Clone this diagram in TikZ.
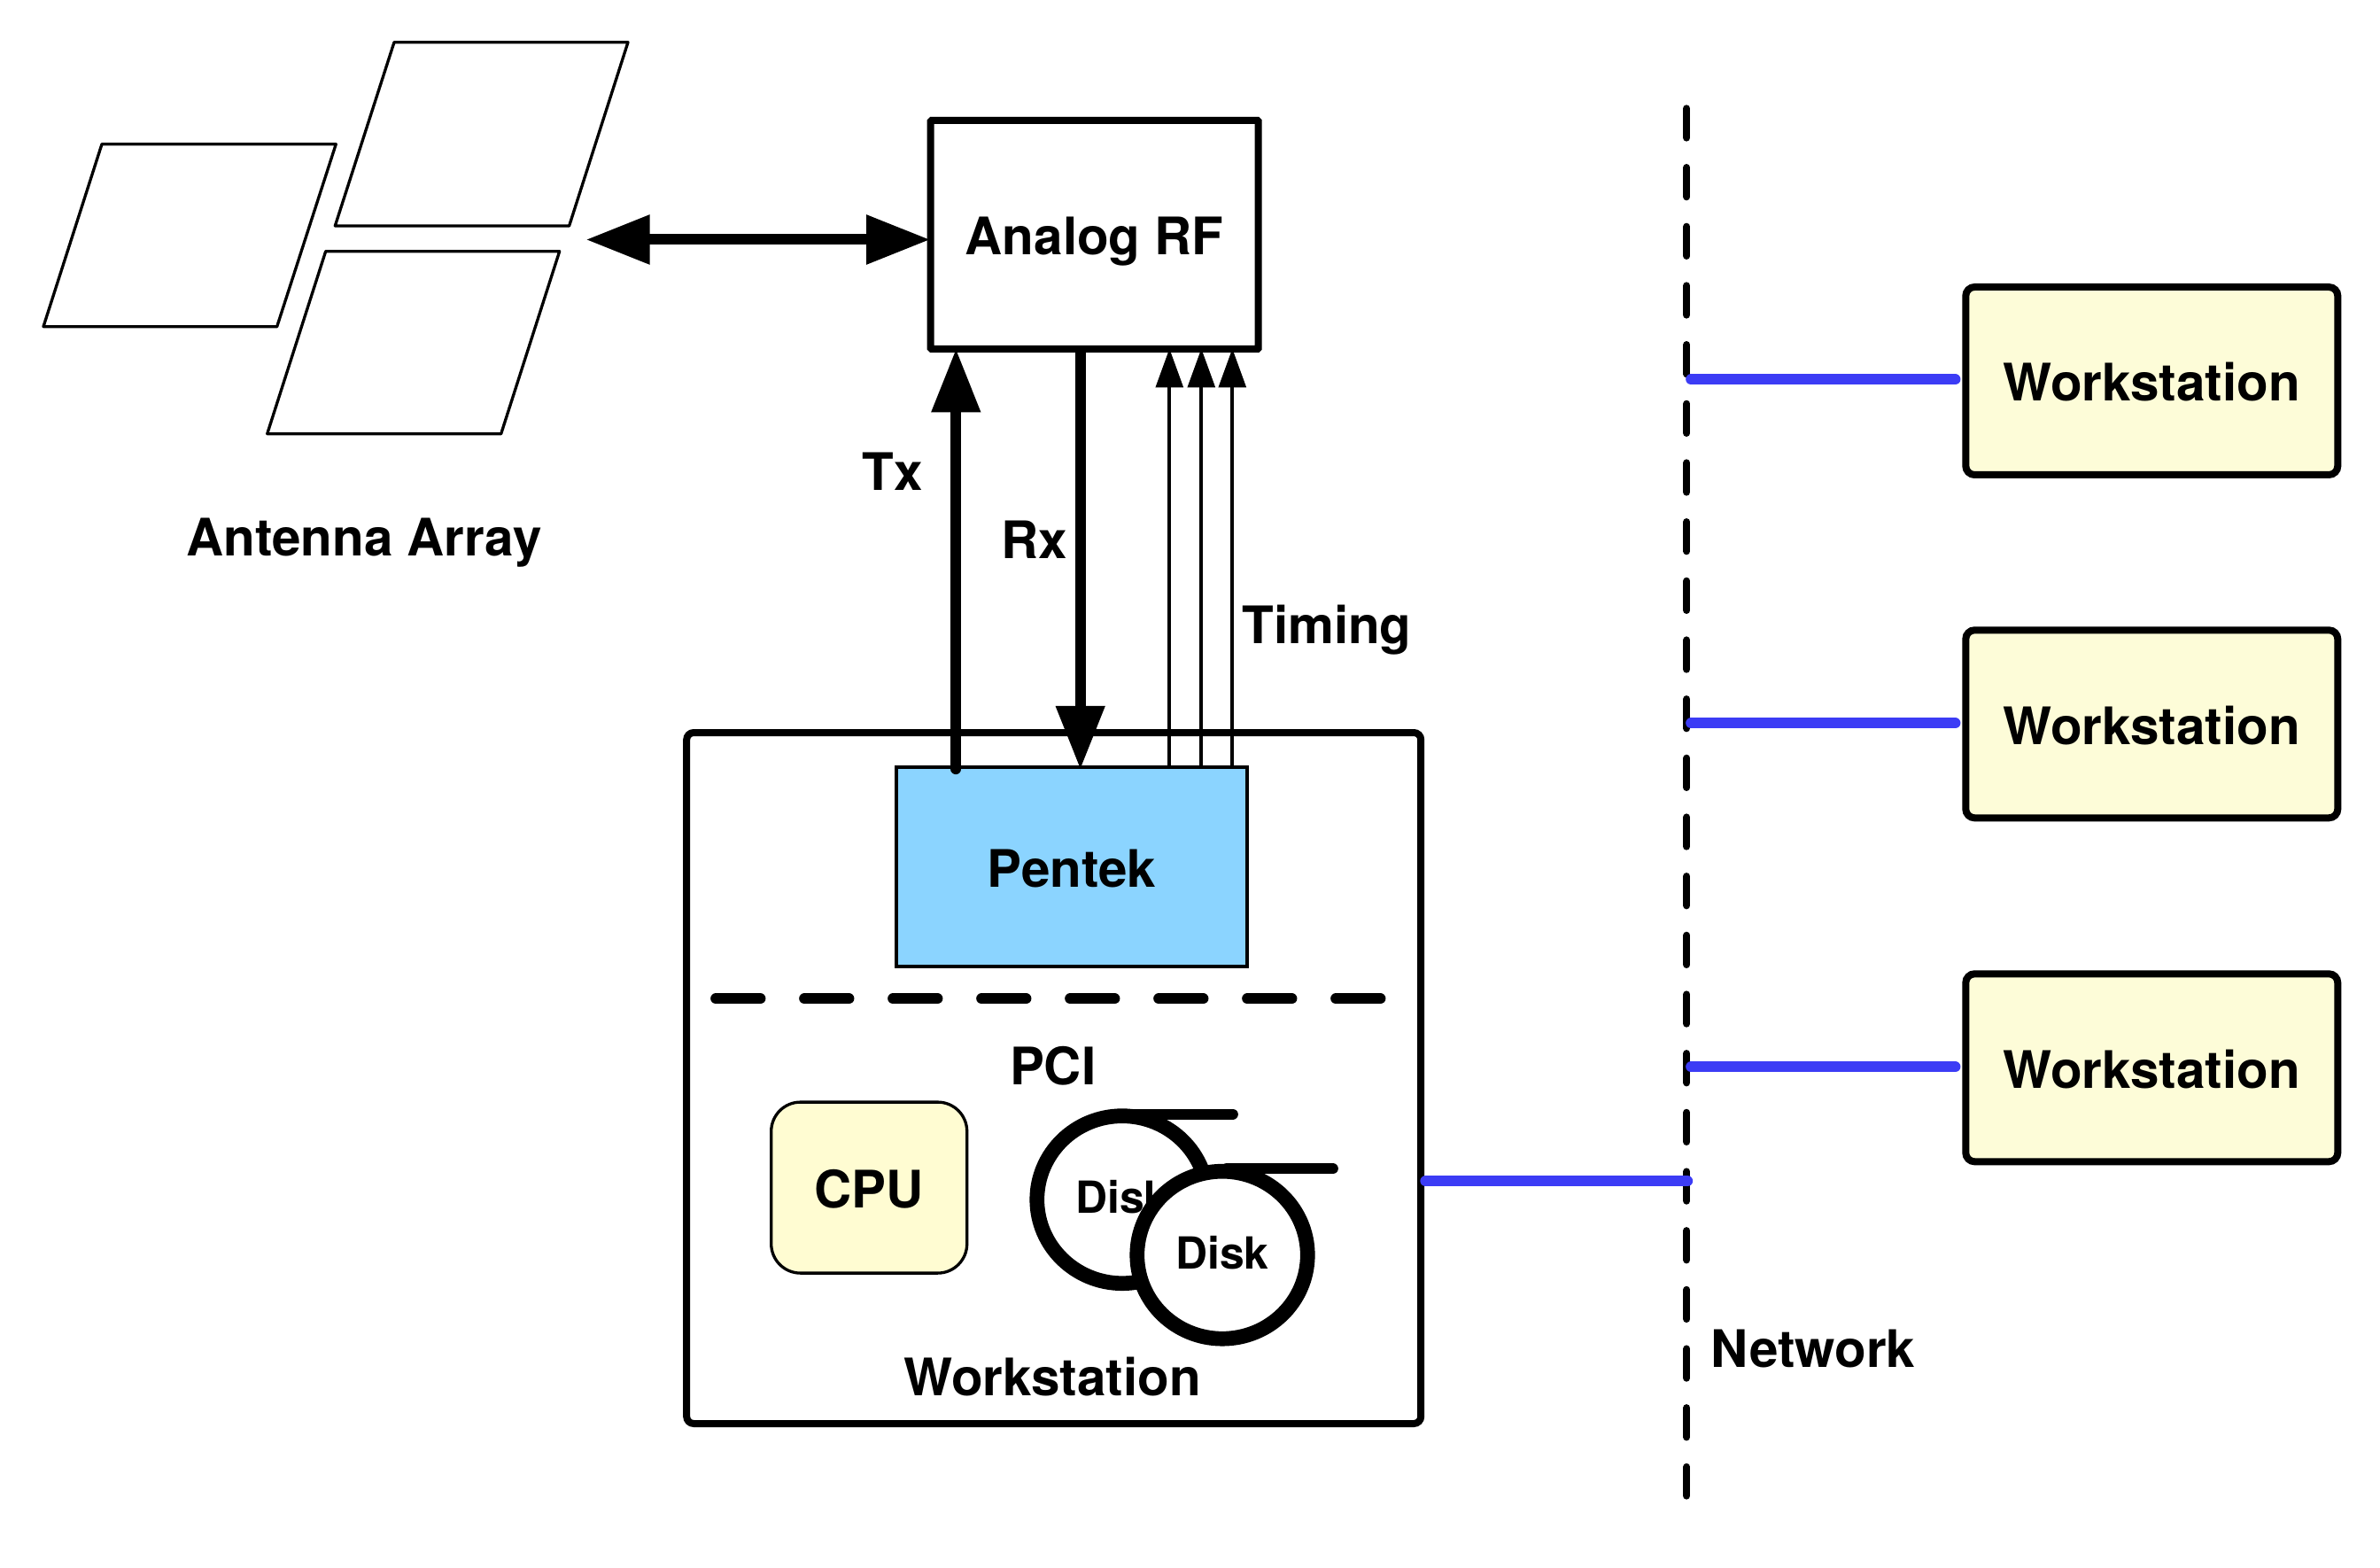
\documentclass[tikz,border=0pt]{standalone}
\usepackage{fontspec}
\setmainfont{TeX Gyre Heros}
\usetikzlibrary{arrows.meta,shapes.geometric}
\definecolor{paleyellow}{HTML}{FDFCD8}
\definecolor{cpuyellow}{HTML}{FFFCD2}
\definecolor{cardblue}{HTML}{8BD4FF}
\definecolor{netblue}{HTML}{3C3CF5}
\tikzset{
	lbl/.style={anchor=base,inner sep=0pt,font=\fontsize{16.6}{20}\selectfont\bfseries},
	boxlbl/.style={inner sep=0pt,text height=0.46cm,text depth=0pt,font=\fontsize{16.6}{20}\selectfont\bfseries},
	panel/.style={draw,line width=0.033cm,line join=round},
	rfbox/.style={boxlbl,draw,line width=0.08cm,rounded corners=0.01cm,minimum width=3.70cm,minimum height=2.58cm},
	hostbox/.style={draw,line width=0.08cm,rounded corners=0.08cm,minimum width=8.29cm,minimum height=7.80cm,inner sep=0pt},
	cardbox/.style={boxlbl,draw,fill=cardblue,line width=0.035cm,minimum width=3.96cm,minimum height=2.25cm},
	cpubox/.style={boxlbl,draw,fill=cpuyellow,line width=0.033cm,rounded corners=0.33cm,minimum width=2.21cm,minimum height=1.93cm},
	nodebox/.style={boxlbl,draw,fill=paleyellow,line width=0.08cm,rounded corners=0.10cm,minimum width=4.20cm,minimum height=2.12cm},
	disk/.style={ellipse,draw,fill=white,line width=0.167cm,inner sep=0pt,minimum width=1.925cm,minimum height=1.89cm,text height=0.312cm,text depth=0pt,font=\fontsize{14.2}{17}\selectfont\bfseries},
	disktail/.style={line width=0.123cm,line cap=round},
	bigarrow/.style={line width=0.123cm,shorten >=-0.045cm,-{Triangle[length=0.72cm,width=0.527cm]}},
	thinarrow/.style={line width=0.04cm,shorten >=-0.045cm,-{Triangle[length=0.44cm,width=0.307cm]}},
	netlink/.style={color=netblue,line width=0.123cm,line cap=round},
}
\begin{document}
\begin{tikzpicture}
	\useasboundingbox (0,0) rectangle (26.87,-17.70);
	%\draw[help lines] (0,-17.7) grid (26.87,0);
	%ANTENNA
	\draw[panel] (1.15,-1.627) -- (3.793,-1.627) -- (3.127,-3.687) -- (0.49,-3.687) -- cycle;
	\draw[panel] (4.45,-0.477) -- (7.09,-0.477) -- (6.426,-2.55) -- (3.783,-2.55) -- cycle;
	\draw[panel] (3.677,-2.837) -- (6.317,-2.837) -- (5.657,-4.897) -- (3.017,-4.897) -- cycle;
	\node[lbl] (arraylbl) at (4.11,-6.27) {Antenna Array};
	\coordinate (arraytip) at (6.65,-2.705);

	%NETWORK
	\coordinate (nettop) at (19.043,-1.225);
	\coordinate (netend) at (19.043,-16.885);
	\draw[line width=0.083cm,line cap=round,dash pattern=on 0.33cm off 0.3367cm] (nettop) -- (netend);
	\node[lbl] (netlbl) at (20.47,-15.43) {Network};

	%HOST
	\node[hostbox] (host) at (11.897,-12.17) {};
	\node[cardbox] (pentek) at (12.10,-9.785) {Pentek};
	\node[rfbox] (rf) at (12.357,-2.65) {Analog RF};
	\coordinate (pcileft) at (8.083,-11.273);
	\coordinate (pciright) at (15.583,-11.273);
	\draw[line width=0.123cm,line cap=round,dash pattern=on 0.5cm off 0.5cm] (pcileft) -- (pciright);
	\node[lbl] (pcilbl) at (11.887,-12.24) {PCI};
	\node[lbl] (hostlbl) at (11.883,-15.757) {Workstation};
	\node[cpubox] (cpu) at (9.812,-13.406) {CPU};

	%DISKS
	\node[disk] (diska) at (12.67,-13.542) {Disk};
	\draw[disktail] (12.75,-12.577) -- (13.917,-12.577);
	\node[disk] (diskb) at (13.80,-14.167) {Disk};
	\draw[disktail] (13.85,-13.193) -- (15.047,-13.193);

	%RF LINKS
	\draw[line width=0.12cm,shorten <=-0.035cm,shorten >=-0.035cm,{Triangle[length=0.72cm,width=0.53cm]}-{Triangle[length=0.72cm,width=0.53cm]}] (arraytip) -- (arraytip -| rf.west);
	\draw[bigarrow,line cap=round] (10.793,-8.68) -- (10.793,-8.68 |- rf.south);
	\draw[bigarrow] (12.197,-3.98 |- rf.south) -- (12.197,-3.98 |- pentek.north);
	\foreach \tx in {13.203,13.563,13.913}
		\draw[thinarrow] (\tx,-8.6 |- pentek.north) -- (\tx,-8.6 |- rf.south);
	\node[lbl] (txlbl) at (10.08,-5.533) {Tx};
	\node[lbl] (rxlbl) at (11.68,-6.31) {Rx};
	\node[lbl] (timinglbl) at (14.98,-7.26) {Timing};

	%LAN
	\node[nodebox] (wsa) at (24.293,-4.30) {Workstation};
	\node[nodebox] (wsb) at (24.293,-8.173) {Workstation};
	\node[nodebox] (wsc) at (24.293,-12.053) {Workstation};
	\coordinate (tapa) at (19.093,-4.283);
	\coordinate (tapb) at (19.093,-8.163);
	\coordinate (tapc) at (19.093,-12.043);
	\coordinate (taphost) at (19.05,-13.333);
	\foreach \a/\b in {tapa/wsa,tapb/wsb,tapc/wsc}
		\draw[netlink,shorten >=0.08cm] (\a) -- (\a -| \b.west);
	\draw[netlink,shorten <=0.013cm] (taphost -| host.east) -- (taphost);
\end{tikzpicture}
\end{document}
